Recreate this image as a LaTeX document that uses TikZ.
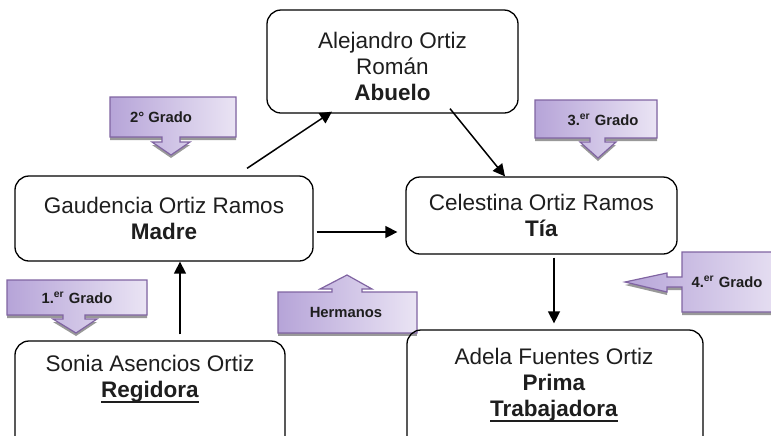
\documentclass[tikz,border=0pt]{standalone}
\usepackage{fontspec}
\setmainfont{Liberation Sans}
\usetikzlibrary{calc,arrows.meta}
\definecolor{cbord}{RGB}{128,100,162}
\definecolor{cleft}{RGB}{182,164,216}
\definecolor{cright}{RGB}{234,228,244}
\definecolor{ctxt}{RGB}{30,30,30}
\newcommand\myul[1]{\setbox0\hbox{#1}\rlap{\rule[-3pt]{\wd0}{1.3pt}}\box0}
\begin{document}
\begin{tikzpicture}[x=0.5pt,y=-0.5pt,
  box/.style={draw, line width=0.65pt, rounded corners=7pt, inner sep=0pt},
  btext/.style={align=center, font=\fontsize{11.25}{13}\selectfont, text=ctxt, inner sep=0pt},
  arr/.style={line width=0.75pt, -{Triangle[length=6pt,width=6pt]}},
  callout/.style={draw=cbord, line width=0.6pt, left color=cleft, right color=cright},
  cshadow/.style={fill=black!40},
  ctext/.style={font=\fontsize{7.4}{9}\selectfont\bfseries, text=ctxt, inner sep=0pt}]
\useasboundingbox (0,0) rectangle (771,435);

% callout shapes
\begin{scope}
% 2 Grado (down)
\fill[cshadow] (110,100) -- (236,100) -- (236,140) -- (180,140) -- (180,145) -- (190,145) -- (171,158) -- (152,145) -- (162,145) -- (162,140) -- (110,140) -- cycle;
\path[callout] (110,97) -- (236,97) -- (236,137) -- (180,137) -- (180,142) -- (190,142) -- (171,155) -- (152,142) -- (162,142) -- (162,137) -- (110,137) -- cycle;
% 3er Grado (down)
\fill[cshadow] (535,103) -- (657,103) -- (657,141) -- (605,141) -- (605,145) -- (616,145) -- (598,161) -- (580,145) -- (590,145) -- (590,141) -- (535,141) -- cycle;
\path[callout] (535,100) -- (657,100) -- (657,138) -- (605,138) -- (605,142) -- (616,142) -- (598,158) -- (580,142) -- (590,142) -- (590,138) -- (535,138) -- cycle;
% 1er Grado (down)
\fill[cshadow] (7,283) -- (147,283) -- (147,318) -- (85,318) -- (85,322) -- (97,322) -- (76,336) -- (53,322) -- (63,322) -- (63,318) -- (7,318) -- cycle;
\path[callout] (7,280) -- (147,280) -- (147,315) -- (85,315) -- (85,319) -- (97,319) -- (76,333) -- (53,319) -- (63,319) -- (63,315) -- (7,315) -- cycle;
% Hermanos (up)
\fill[cshadow] (278,295) -- (417,295) -- (417,336) -- (278,336) -- cycle;
\path[callout] (278,292) -- (332,292) -- (332,289) -- (320,289) -- (347,275) -- (372,289) -- (362,289) -- (362,292) -- (417,292) -- (417,333) -- (278,333) -- cycle;
% 4er Grado (left)
\fill[cshadow] (682,255) -- (790,255) -- (790,315) -- (682,315) -- (682,290) -- (667,290) -- (667,295) -- (625,285) -- (667,276) -- (667,280) -- (682,280) -- cycle;
\path[callout] (682,252) -- (790,252) -- (790,312) -- (682,312) -- (682,287) -- (667,287) -- (667,292) -- (625,282) -- (667,273) -- (667,277) -- (682,277) -- cycle;
\end{scope}

\node[ctext] (g2) at (161,117) {2° Grado};
\node[ctext] (g3) at (603,120) {3.\textsuperscript{er} Grado};
\node[ctext] (g1) at (77,298) {1.\textsuperscript{er} Grado};
\node[ctext] (gh) at (346,312) {Hermanos};
\node[ctext] (g4) at (727,282) {4.\textsuperscript{er} Grado};

% boxes
\node[box, minimum width=125.5pt, minimum height=51.5pt] (abu) at (392.5,61.5) {};
\node[btext] (abut) at (392.5,66) {Alejandro Ortiz\\Román\\\textbf{Abuelo}};
\node[box, btext, minimum width=149pt, minimum height=42.5pt] (gau) at (164,218.5)
  {Gaudencia Ortiz Ramos\\\textbf{Madre}};
\node[box, btext, minimum width=135.5pt, minimum height=38.5pt] (cel) at (541.5,215.5)
  {Celestina Ortiz Ramos\\\textbf{Tía}};
\node[box, minimum width=135pt, minimum height=54.5pt] (sonia) at (150,395.5) {};
\node[btext] (soniat) at (150,379) {Sonia Asencios Ortiz\\\myul{\textbf{Regidora}}};
\node[box, minimum width=148pt, minimum height=60pt] (adela) at (555,390) {};
\node[btext] (adelat) at (554,385) {Adela Fuentes Ortiz\\\textbf{Prima}\\\myul{\textbf{Trabajadora}}};

% connectors
\draw[arr] ($(sonia.north)+(30,-6)$) -- ($(gau.south)+(16,0)$);
\draw[arr] ($(gau.north)+(83,-7)$) -- ($(abu.south)+(-60.5,-2)$);
\draw[arr] ($(gau.east)+(3,13.5)$) -- ($(cel.west)+(-8,16.5)$);
\draw[arr] ($(abu.south)+(57.5,-5)$) -- ($(cel.north)+(-36.5,0)$);
\draw[arr] ($(cel.south)+(12.5,3)$) -- ($(adela.north)+(-1,-6)$);
\end{tikzpicture}
\end{document}
